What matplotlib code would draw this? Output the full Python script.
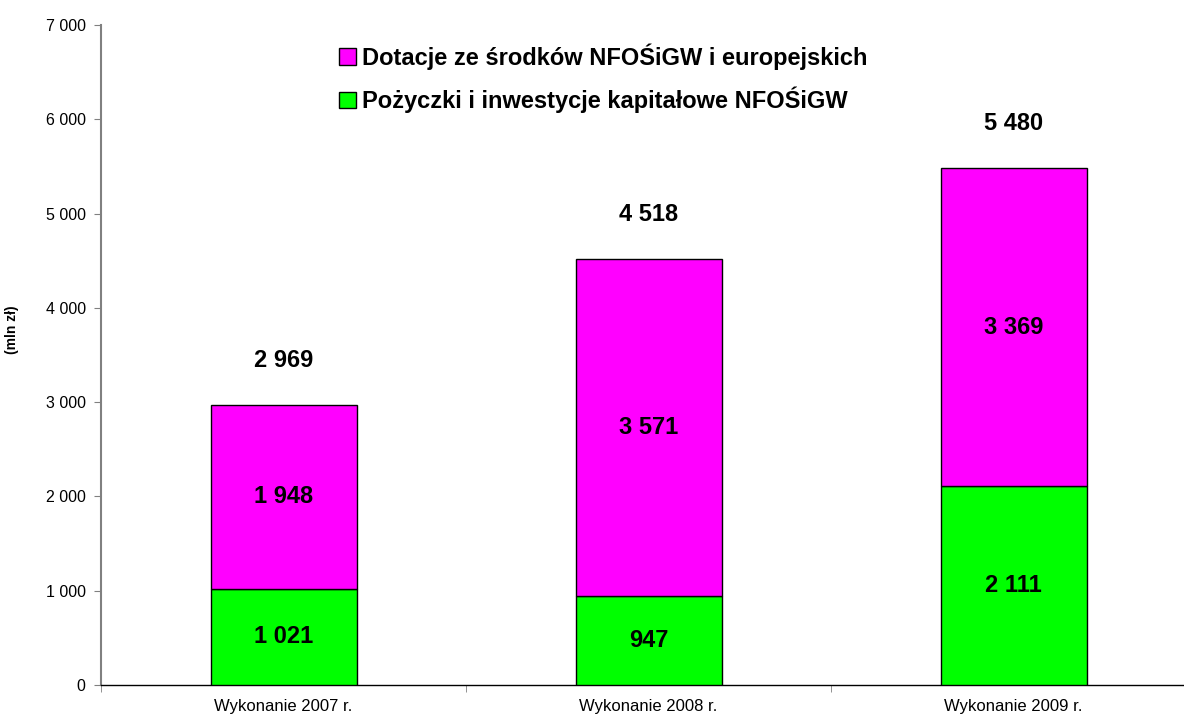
import matplotlib.pyplot as plt
import numpy as np

plt.rcParams['font.family'] = ['Liberation Sans', 'DejaVu Sans']

# dane (mln zł)
kategorie = ["Wykonanie 2007 r.", "Wykonanie 2008 r.", "Wykonanie 2009 r."]
pozyczki = [1021, 947, 2111]
dotacje = [1948, 3571, 3369]
razem = [2969, 4518, 5480]

def fmt(v):
    return f"{v:,}".replace(",", " ")

fig = plt.figure(figsize=(11.84, 7.17), dpi=100)
ax = fig.add_axes([101 / 1184, 1 - 685 / 717, 1095 / 1184, 660 / 717])

x = np.arange(len(kategorie))
w = 0.4
b1 = ax.bar(x, pozyczki, w, color='#00ff00', edgecolor='black', linewidth=1,
            label='Pożyczki i inwestycje kapitałowe NFOŚiGW', zorder=3)
b2 = ax.bar(x, dotacje, w, bottom=pozyczki, color='#ff00ff', edgecolor='black', linewidth=1,
            label='Dotacje ze środków NFOŚiGW i europejskich', zorder=3)

for i in range(len(x)):
    ax.text(x[i], pozyczki[i] / 2, fmt(pozyczki[i]), ha='center', va='center',
            fontsize=17, fontweight='bold')
    ax.text(x[i], pozyczki[i] + dotacje[i] / 2, fmt(dotacje[i]), ha='center', va='center',
            fontsize=17, fontweight='bold')
    ax.annotate(fmt(razem[i]), (x[i], razem[i]), xytext=(0, 24), textcoords='offset points',
                ha='center', va='bottom', fontsize=17, fontweight='bold')

ax.set_xlim(-0.5, 2.5)
ax.set_ylim(0, 7000)
ax.set_yticks(range(0, 7001, 1000))
ax.set_yticklabels([fmt(v) for v in range(0, 7001, 1000)], fontsize=11.5)
ax.set_xticks(x)
ax.set_xticklabels(kategorie, fontsize=12)
ax.set_xticks([-0.5, 0.5, 1.5, 2.5], minor=True)
ax.tick_params(axis='x', which='major', length=0, pad=10)
ax.tick_params(axis='x', which='minor', length=5, color='#808080', direction='out')
ax.tick_params(axis='y', length=5, color='#808080', direction='out', pad=6)

ax.spines['top'].set_visible(False)
ax.spines['right'].set_visible(False)
ax.spines['left'].set_color('#808080')
ax.spines['left'].set_linewidth(1.5)
ax.spines['bottom'].set_color('black')
ax.spines['bottom'].set_linewidth(1)

ax.set_ylabel('(mln zł)', fontsize=10, fontweight='bold')
ax.yaxis.set_label_coords((19 - 101) / 1095, 0.538)

h, l = ax.get_legend_handles_labels()
fig.legend(h[::-1], l[::-1], loc='upper left', bbox_to_anchor=(330 / 1184, 1 - 34 / 717),
           frameon=False, prop={'size': 17, 'weight': 'bold'}, handlelength=0.7,
           handleheight=0.7, handletextpad=0.25, labelspacing=0.72, borderaxespad=0)

fig.savefig('out.png', dpi=100)
